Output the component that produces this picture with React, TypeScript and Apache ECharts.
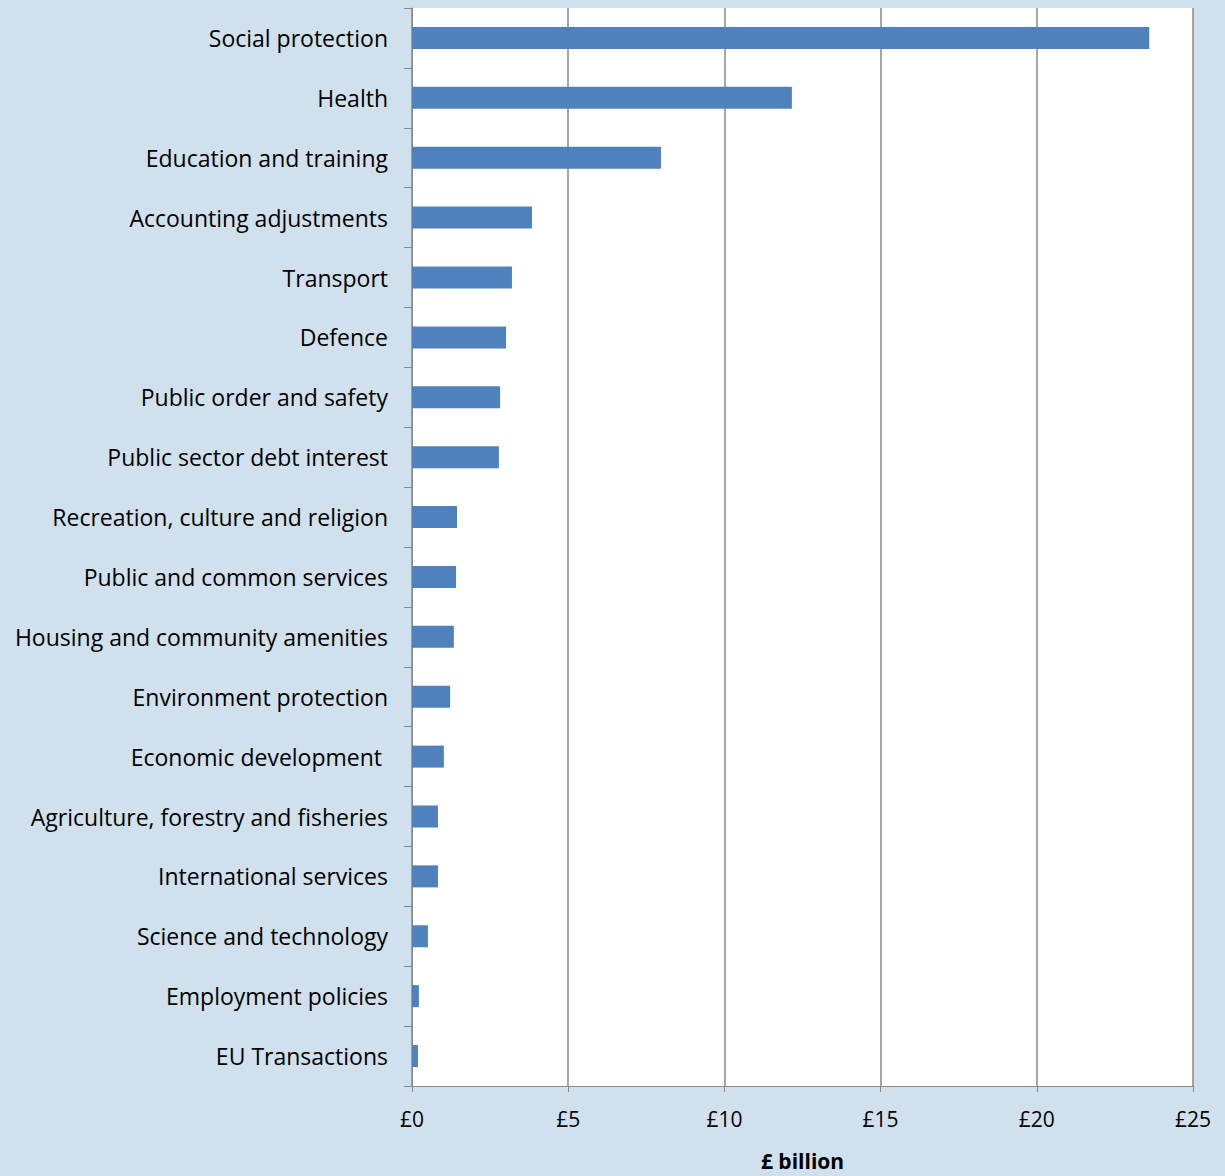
import { useEffect, useRef } from 'react';
import * as echarts from 'echarts';

const categories = [
    'Social protection', 'Health', 'Education and training', 'Accounting adjustments',
    'Transport', 'Defence', 'Public order and safety', 'Public sector debt interest',
    'Recreation, culture and religion', 'Public and common services',
    'Housing and community amenities', 'Environment protection', 'Economic development ',
    'Agriculture, forestry and fisheries', 'International services',
    'Science and technology', 'Employment policies', 'EU Transactions'
];
const values = [23.6, 12.16, 7.97, 3.84, 3.2, 3.01, 2.82, 2.78, 1.44, 1.41, 1.34, 1.22, 1.02, 0.83, 0.83, 0.51, 0.22, 0.19];

const App = () => {
    const chartRef = useRef<HTMLDivElement | null>(null);

    useEffect(() => {
        document.body.style.margin = '0';
        if (!chartRef.current) return;
        const myChart = echarts.init(chartRef.current, null, { renderer: 'svg' });
        const font = 'Open Sans';
        myChart.setOption({
            animation: false,
            backgroundColor: '#d0e0ed',
            grid: { left: 412, right: 32, top: 8, bottom: 89, show: true, backgroundColor: '#fff', borderWidth: 0 },
            xAxis: {
                type: 'value', min: 0, max: 25, interval: 5,
                name: '£ billion', nameLocation: 'middle', nameGap: 64,
                nameTextStyle: { fontFamily: font, fontSize: 21, fontWeight: 'bold', color: '#000' },
                axisLabel: { formatter: (v: number) => '£' + v, fontFamily: font, fontSize: 21, color: '#000', margin: 22 },
                axisLine: { show: true, lineStyle: { color: '#888' } },
                axisTick: { show: true, length: 6, lineStyle: { color: '#888' } },
                splitLine: { lineStyle: { color: '#888', width: 1.5 } }
            },
            yAxis: {
                type: 'category', inverse: true, data: categories,
                axisLabel: { fontFamily: font, fontSize: 23, color: '#000', margin: 24 },
                axisLine: { lineStyle: { color: '#888' } },
                axisTick: { show: true, length: 8, lineStyle: { color: '#888' } }
            },
            series: [{
                type: 'bar', data: values, barWidth: 22,
                itemStyle: { color: '#4f81bd' }
            }]
        });
        return () => myChart.dispose();
    }, []);

    return <div ref={chartRef} style={{ width: 1225, height: 1176 }} />;
};

export default App;
